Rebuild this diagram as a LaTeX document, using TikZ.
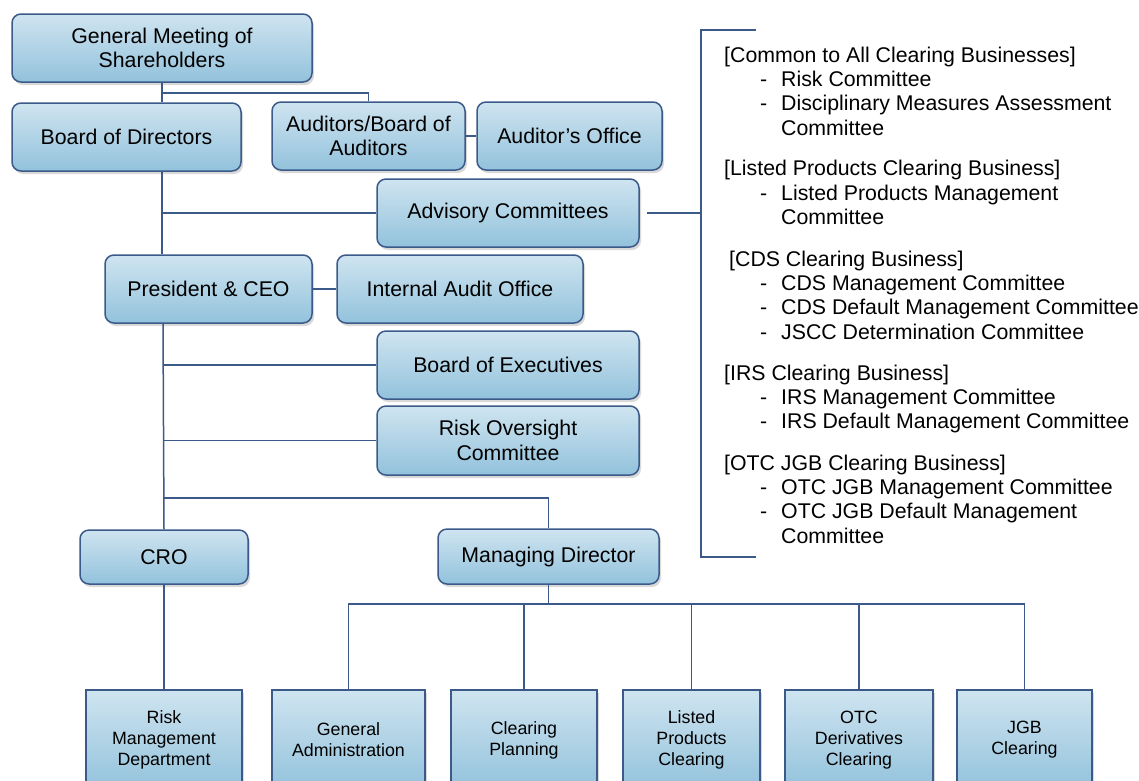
\documentclass[tikz,border=0pt]{standalone}
\usepackage{fontspec}
\setmainfont{Liberation Sans}
\usepackage{tikz}
\usetikzlibrary{shadows}

\definecolor{boxTop}{HTML}{CFE4F0}
\definecolor{boxBottom}{HTML}{92C2DC}
\definecolor{boxLine}{HTML}{3B5A8A}

\tikzset{
  orgBox/.style={draw=boxLine, line width=1.5pt, rounded corners=9pt,
    top color=boxTop, bottom color=boxBottom, align=center, inner sep=2pt,
    font=\fontsize{21.3}{24.3}\selectfont,
    drop shadow={opacity=0.3, shadow xshift=2pt, shadow yshift=-3pt}},
  deptBox/.style={orgBox, rounded corners=0pt, font=\fontsize{17.8}{21}\selectfont,
    minimum height=100pt},
  link/.style={draw=boxLine, line width=1.5pt},
  listText/.style={anchor=base west, inner sep=0pt, font=\fontsize{21.3}{24.3}\selectfont}
}

\begin{document}
\begin{tikzpicture}[x=1pt, y=-1pt]
    \path[use as bounding box] (0,0) rectangle (1139,780);
    \clip (0,0) rectangle (1139,780);

    \node[orgBox, minimum width=300pt, minimum height=68pt] (gms) at (162,48) {General Meeting of\\Shareholders};
    \node[orgBox, minimum width=229pt, minimum height=68pt] (bod) at (126.5,137) {Board of Directors};
    \node[orgBox, minimum width=193pt, minimum height=68pt] (aud) at (368.5,136) {Auditors/Board of\\Auditors};
    \node[orgBox, minimum width=185pt, minimum height=68pt] (audOffice) at (569.5,136) {Auditor’s Office};
    \node[orgBox, minimum width=262pt, minimum height=68pt] (adv) at (508,213) {Advisory Committees};
    \node[orgBox, minimum width=207pt, minimum height=68pt] (ceo) at (208.5,289) {President \& CEO};
    \node[orgBox, minimum width=246pt, minimum height=68pt] (iao) at (460,289) {Internal Audit Office};
    \node[orgBox, minimum width=262pt, minimum height=68pt] (boe) at (508,365) {Board of Executives};
    \node[orgBox, minimum width=262pt, minimum height=69pt] (roc) at (508,440.5) {Risk Oversight\\Committee};
    \node[orgBox, minimum width=168pt, minimum height=54pt] (cro) at (164,557) {CRO};
    \node[orgBox, minimum width=221pt, minimum height=55pt] (md) at (548.5,556.5) {Managing Director};

    \node[deptBox, minimum width=156pt] (riskDept) at (164,740) {Risk\\Management\\Department};
    \node[deptBox, minimum width=153pt] (genAdmin) at (348.5,740) {General\\Administration};
    \node[deptBox, minimum width=146pt] (clrPlan) at (524,740) {Clearing\\Planning};
    \node[deptBox, minimum width=137pt] (listed) at (691.5,740) {Listed\\Products\\Clearing};
    \node[deptBox, minimum width=148pt] (otcDeriv) at (859,740) {OTC\\Derivatives\\Clearing};
    \node[deptBox, minimum width=135pt] (jgb) at (1024.5,740) {JGB\\Clearing};

    % spine down the left
    \draw[link] (gms.south) -- (gms.south |- bod.north);
    \draw[link] (gms.south) ++(0,10) -| (aud.north);
    \draw[link] (aud.east) -- (audOffice.west);
    \draw[link] (gms.south |- bod.south) -- (gms.south |- ceo.north);
    \draw[link] (gms.south |- adv.west) -- (adv.west);
    \draw[link] (ceo.east) -- (iao.west);
    \draw[link] (163,323) -- (cro.north);
    \draw[link] (163,365) -- (boe.west);
    \draw[link] (163,440.5) -- (roc.west);
    \draw[link] (163,498) -| (md.north);
    \draw[link] (cro.south) -- (riskDept.north);

    % managing director branches
    \draw[link] (md.south) -- ++(0,19) coordinate (mdHub);
    \foreach \dept in {genAdmin, clrPlan, listed, otcDeriv, jgb}
        \draw[link] (mdHub) -| (\dept.north);

    % advisory committees bracket
    \coordinate (advOut) at (647,213);
    \coordinate (brTop) at (756,30);
    \coordinate (brBottom) at (756,557);
    \draw[link] (advOut) -- (701,213);
    \draw[link] (brTop) -- (701,30) -- (701,557) -- (brBottom);

    \foreach \y/\t in {55/{[Common to All Clearing Businesses]}, 168/{[Listed Products Clearing Business]},
        373/{[IRS Clearing Business]}, 463/{[OTC JGB Clearing Business]}}
        \node[listText] (head\y) at (724,\y+7.5) {\t};
    \node[listText] (headCds) at (729,266.5) {[CDS Clearing Business]};

    \foreach \y/\t in {79/Risk Committee, 103/Disciplinary Measures Assessment,
        193/Listed Products Management, 283/CDS Management Committee,
        307/CDS Default Management Committee, 332/JSCC Determination Committee,
        397/IRS Management Committee, 421/IRS Default Management Committee,
        487/OTC JGB Management Committee, 511/OTC JGB Default Management}
    {
        \node[listText] (dash\y) at (760,\y+7.5) {-};
        \node[listText] (item\y) at (781,\y+7.5) {\t};
    }
    \foreach \y in {128, 217, 536}
        \node[listText] (more\y) at (781,\y+7.5) {Committee};
\end{tikzpicture}
\end{document}
